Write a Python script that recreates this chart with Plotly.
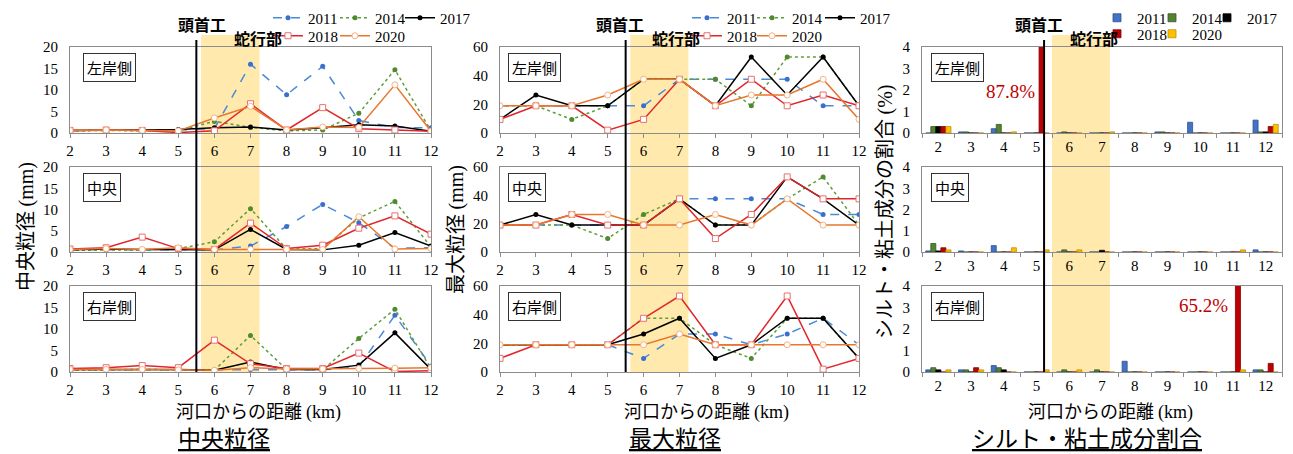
import plotly.graph_objects as go

W, H = 1293, 454

# ---------------- data ----------------
km = [2, 3, 4, 5, 6, 7, 8, 9, 10, 11, 12]
km_labels = [str(k) for k in km]
years = ["2011", "2014", "2017", "2018", "2020"]
banks = ["左岸側", "中央", "右岸側"]

# 中央粒径 (mm)
median_left = {
    "2011": [0.6, 0.6, 0.6, 0.7, 1.0, 16.0, 8.9, 15.5, 2.9, 1.3, 1.2],
    "2014": [0.5, 0.6, 0.5, 0.5, 2.7, 1.3, 0.5, 0.7, 4.6, 14.7, 0.5],
    "2017": [0.6, 0.6, 0.7, 0.8, 1.2, 1.4, 0.7, 1.2, 1.9, 1.6, 0.4],
    "2018": [0.6, 0.7, 0.6, 0.1, 0.5, 6.8, 0.7, 5.9, 1.0, 0.7, 0.4],
    "2020": [0.6, 0.7, 0.6, 0.5, 3.5, 6.2, 0.7, 1.4, 1.3, 11.2, 0.4],
}
median_center = {
    "2011": [0.5, 0.5, 0.5, 0.5, 0.5, 1.4, 6.0, 11.2, 6.9, 0.9, 1.0],
    "2014": [0.4, 0.5, 0.5, 0.8, 2.4, 10.2, 0.7, 0.8, 8.0, 11.9, 1.2],
    "2017": [0.5, 0.7, 0.6, 0.6, 0.5, 5.3, 0.6, 0.5, 1.6, 4.6, 1.4],
    "2018": [0.7, 1.0, 3.5, 0.8, 0.6, 6.8, 0.8, 1.6, 5.6, 8.5, 4.2],
    "2020": [0.6, 0.8, 0.6, 1.0, 0.6, 0.6, 0.6, 0.6, 8.3, 0.7, 0.8],
}
median_right = {
    "2011": [0.5, 0.5, 0.5, 0.5, 0.5, 0.6, 0.5, 0.5, 1.2, 13.2, 1.4],
    "2014": [0.4, 0.5, 0.6, 0.5, 0.4, 8.5, 0.6, 0.5, 7.8, 14.6, 0.8],
    "2017": [0.6, 0.6, 0.7, 0.6, 0.4, 2.3, 0.6, 0.6, 1.6, 9.1, 0.6],
    "2018": [0.8, 1.0, 1.5, 1.0, 7.4, 1.9, 0.8, 0.8, 4.4, 0.1, 0.3],
    "2020": [0.6, 0.6, 0.6, 0.5, 0.4, 1.0, 0.7, 0.7, 0.8, 0.9, 1.0],
}

# 最大粒径 (mm)
max_left = {
    "2011": [19, 19, 19, 19, 19, 37.5, 37.5, 37.5, 37.5, 19, 19],
    "2014": [19, 19, 9.5, 19, 37.5, 37.5, 37.5, 19, 53, 53, 19],
    "2017": [9.5, 26.5, 19, 19, 37.5, 37.5, 19, 53, 26.5, 53, 19],
    "2018": [9.5, 19, 19, 2, 9.5, 37.5, 19, 37.5, 19, 26.5, 19],
    "2020": [19, 19, 19, 26.5, 37.5, 37.5, 19, 26.5, 26.5, 37.5, 9.5],
}
max_center = {
    "2011": [19, 19, 19, 19, 19, 37.5, 37.5, 37.5, 37.5, 26.5, 26.5],
    "2014": [19, 19, 19, 9.5, 26.5, 37.5, 19, 19, 37.5, 53, 19],
    "2017": [19, 26.5, 19, 19, 19, 37.5, 19, 19, 53, 37.5, 19],
    "2018": [19, 19, 26.5, 19, 19, 37.5, 9.5, 26.5, 53, 37.5, 37.5],
    "2020": [19, 19, 26.5, 26.5, 19, 19, 26.5, 19, 37.5, 19, 19],
}
max_right = {
    "2011": [19, 19, 19, 19, 9.5, 26.5, 26.5, 19, 26.5, 37.5, 19],
    "2014": [19, 19, 19, 19, 37.5, 37.5, 19, 9.5, 37.5, 37.5, 9.5],
    "2017": [19, 19, 19, 19, 26.5, 37.5, 9.5, 19, 37.5, 37.5, 9.5],
    "2018": [9.5, 19, 19, 19, 37.5, 53, 19, 19, 53, 2, 9.5],
    "2020": [19, 19, 19, 19, 19, 26.5, 19, 19, 19, 19, 19],
}

# シルト・粘土成分の割合 (%)
silt_left = {
    "2011": [0, 0.05, 0.2, 0, 0, 0, 0, 0.05, 0.5, 0, 0.6],
    "2014": [0.3, 0.05, 0.4, 0, 0.05, 0, 0, 0.05, 0, 0, 0.05],
    "2017": [0.3, 0, 0, 0, 0, 0, 0, 0, 0, 0, 0.05],
    "2018": [0.3, 0, 0, 87.8, 0, 0, 0, 0, 0, 0, 0.3],
    "2020": [0.3, 0, 0.05, 0, 0, 0.05, 0, 0, 0, 0, 0.4],
}
silt_center = {
    "2011": [0.05, 0.05, 0.3, 0, 0, 0, 0, 0, 0, 0, 0.1],
    "2014": [0.4, 0, 0, 0, 0.1, 0, 0, 0, 0, 0, 0],
    "2017": [0.05, 0, 0, 0, 0, 0.08, 0, 0, 0, 0, 0],
    "2018": [0.2, 0, 0, 0, 0, 0, 0, 0, 0, 0, 0],
    "2020": [0.1, 0, 0.2, 0.1, 0.1, 0, 0, 0, 0, 0.1, 0],
}
silt_right = {
    "2011": [0.1, 0.1, 0.3, 0, 0, 0, 0.5, 0, 0, 0, 0.1],
    "2014": [0.2, 0.1, 0.2, 0, 0.1, 0.1, 0, 0, 0, 0, 0.1],
    "2017": [0.1, 0, 0.1, 0, 0, 0, 0, 0, 0, 0, 0],
    "2018": [0, 0.2, 0, 0, 0, 0, 0, 0, 0, 65.2, 0.4],
    "2020": [0.1, 0.1, 0, 0.1, 0.1, 0, 0, 0, 0, 0.1, 0],
}

# ---------------- styles ----------------
SERIF = "Liberation Serif, Times New Roman, serif"
JP = "Noto Sans CJK JP, sans-serif"
FRAME = "#8c8c8c"

line_style = {
    "2011": dict(line=dict(color="#4a8ad8", width=1.5, dash="dash"),
                 marker=dict(symbol="circle", size=5, color="#3a6fd0")),
    "2014": dict(line=dict(color="#5e9e3a", width=1.5, dash="dot"),
                 marker=dict(symbol="circle", size=5, color="#4f8a2e")),
    "2017": dict(line=dict(color="#000000", width=1.5),
                 marker=dict(symbol="circle", size=5, color="#000000")),
    "2018": dict(line=dict(color="#e0262b", width=1.5),
                 marker=dict(symbol="square", size=6, color="#ffffff",
                             line=dict(color="#e87070", width=1))),
    "2020": dict(line=dict(color="#e8772e", width=1.5),
                 marker=dict(symbol="circle", size=6, color="#ffffff",
                             line=dict(color="#f4b183", width=1))),
}
bar_style = {
    "2011": dict(color="#4472c4", line=dict(color="#2f528f", width=0.8)),
    "2014": dict(color="#548235", line=dict(color="#385723", width=0.8)),
    "2017": dict(color="#000000", line=dict(color="#000000", width=0.8)),
    "2018": dict(color="#c00000", line=dict(color="#800000", width=0.8)),
    "2020": dict(color="#ffc000", line=dict(color="#bf9000", width=0.8)),
}

# ---------------- geometry (pixels) ----------------
col_px = [(70, 431), (500, 859), (922, 1282)]
row_px = [(47, 133), (167, 252), (286, 372)]


def px_x(p):
    return p / W


def px_y(p):
    return 1 - p / H


median_sets = [median_left, median_center, median_right]
max_sets = [max_left, max_center, max_right]
silt_sets = [silt_left, silt_center, silt_right]

fig = go.Figure()
layout = dict(
    width=W, height=H,
    margin=dict(l=0, r=0, t=0, b=0, autoexpand=False),
    paper_bgcolor="white", plot_bgcolor="rgba(0,0,0,0)",
    barmode="group", bargap=0.23, bargroupgap=0,
    font=dict(family=SERIF, size=15, color="#000"),
    showlegend=True,
)

# legend text start positions (px) per column and year
legend_pos = [
    {"2011": (308, 18), "2014": (375, 18), "2017": (440, 18), "2018": (308, 36), "2020": (375, 36)},
    {"2011": (727, 18), "2014": (792, 18), "2017": (860, 18), "2018": (727, 36), "2020": (792, 36)},
    {"2011": (1137, 18), "2014": (1192, 18), "2017": (1247, 18), "2018": (1137, 34), "2020": (1192, 34)},
]


def legend_name(n):
    return "legend" if n == 1 else f"legend{n}"


legend_counter = 0
for c in range(3):
    for r in range(3):
        idx = r * 3 + c + 1
        sfx = "" if idx == 1 else str(idx)
        xa, ya = "x" + sfx, "y" + sfx
        for yr in years:
            if c < 2:
                data = (median_sets if c == 0 else max_sets)[r][yr]
                fig.add_trace(go.Scatter(
                    x=km, y=data, mode="lines+markers", name=yr,
                    xaxis=xa, yaxis=ya, showlegend=False,
                    **line_style[yr]))
            else:
                data = silt_sets[r][yr]
                fig.add_trace(go.Bar(
                    x=km_labels, y=data, name=yr, xaxis=xa, yaxis=ya,
                    showlegend=False, offsetgroup=yr, marker=bar_style[yr]))

        x_dom = [px_x(col_px[c][0]), px_x(col_px[c][1])]
        y_dom = [px_y(row_px[r][1]), px_y(row_px[r][0])]
        xkey = "xaxis" if idx == 1 else f"xaxis{idx}"
        ykey = "yaxis" if idx == 1 else f"yaxis{idx}"
        common = dict(showline=True, mirror=True, linecolor=FRAME, linewidth=1,
                      showgrid=False, zeroline=False,
                      tickfont=dict(family=SERIF, size=15, color="#000"))
        if c < 2:
            layout[xkey] = dict(domain=x_dom, anchor=ya, range=[2, 12],
                                tickvals=km, ticks="outside", ticklen=4,
                                tickcolor=FRAME, **common)
        else:
            layout[xkey] = dict(domain=x_dom, anchor=ya, type="category",
                                categoryorder="array", categoryarray=km_labels,
                                range=[-0.5, 10.5], tickson="boundaries",
                                ticks="outside", ticklen=4, tickcolor=FRAME,
                                **common)
        if c == 0:
            yr_range, dtick = [0, 20], 5
        elif c == 1:
            yr_range, dtick = [0, 60], 20
        else:
            yr_range, dtick = [0, 4], 1
        layout[ykey] = dict(domain=y_dom, anchor=xa, range=yr_range, dtick=dtick,
                            ticks="", ticklabelstandoff=8, **common)

# legend keys: one small legend per entry so each can be placed freely
for c in range(3):
    xa, ya = ("x", "y") if c == 0 else (f"x{c + 1}", f"y{c + 1}")
    for yr in years:
        legend_counter += 1
        lg = legend_name(legend_counter)
        tx, ty = legend_pos[c][yr]
        layout[lg] = dict(
            x=px_x(tx - 40), y=px_y(ty), xanchor="left", yanchor="middle",
            bgcolor="rgba(0,0,0,0)", borderwidth=0, itemwidth=30,
            font=dict(family=SERIF, size=15, color="#000"),
            orientation="h",
        )
        if c < 2:
            key = dict(mode="lines+markers", **line_style[yr])
        else:
            key = dict(mode="markers",
                       marker=dict(symbol="square", size=8,
                                   color=bar_style[yr]["color"],
                                   line=dict(color=bar_style[yr]["line"]["color"], width=0.8)))
        fig.add_trace(go.Scatter(x=[None], y=[None], name=yr, xaxis=xa, yaxis=ya,
                                 showlegend=True, legend=lg, hoverinfo="skip", **key))

fig.update_layout(**layout)

# ---------------- weir line, meander band ----------------
weir_x = [5.5, 5.5, 3.23]
band_x = [(5.63, 7.25), (5.63, 7.25), (3.47, 5.24)]
col_xref = ["x", "x2", "x3"]
shapes = []
for c in range(3):
    shapes.append(dict(type="rect", xref=col_xref[c], yref="paper",
                       x0=band_x[c][0], x1=band_x[c][1],
                       y0=px_y(372), y1=px_y(35),
                       fillcolor="#ffe9ad", line=dict(width=0), layer="below"))
    shapes.append(dict(type="line", xref=col_xref[c], yref="paper",
                       x0=weir_x[c], x1=weir_x[c], y0=px_y(372), y1=px_y(40),
                       line=dict(color="#000", width=2), layer="above"))
fig.update_layout(shapes=shapes)

# ---------------- annotations ----------------
ann = []


def label(text, x, y, size, family=JP, color="#000", **kw):
    d = dict(text=text, x=px_x(x), y=px_y(y), xref="paper", yref="paper",
             xanchor="center", yanchor="middle", showarrow=False,
             font=dict(family=family, size=size, color=color))
    d.update(kw)
    ann.append(d)


weir_lbl_x = [202, 620, 1039]
meander_lbl_x = [258, 676, 1094]
box_left = [83, 508, 931]
for c in range(3):
    label("<b>頭首工</b>", weir_lbl_x[c], 24, 16)
    label("<b>蛇行部</b>", meander_lbl_x[c], 38, 16)
    for r in range(3):
        label(banks[r], box_left[c], row_px[r][0] + 20, 15, xanchor="left",
              bordercolor="#333", borderwidth=1, borderpad=3, bgcolor="white")

# axis titles
serif_span = "<span style='font-family:Liberation Serif'>{}</span>"
label("中央粒径 " + serif_span.format("(mm)"), 24, 227, 20, textangle=-90)
label("最大粒径 " + serif_span.format("(mm)"), 454, 229, 20, textangle=-90)
label("シルト・粘土成分の割合 " + serif_span.format("(%)"), 883, 212, 20, textangle=-90)

for x in [258, 706, 1110]:
    label("河口からの距離 " + serif_span.format("(km)"), x, 410, 18)

for t, x in [("中央粒径", 224), ("最大粒径", 675), ("シルト・粘土成分割合", 1087)]:
    label(f"<u>{t}</u>", x, 437, 23)

# value labels for the clipped silt bars
label(f"{silt_left['2018'][3]}%", 1010, 91, 19, family=SERIF, color="#c00000")
label(f"{silt_right['2018'][9]}%", 1203, 305, 19, family=SERIF, color="#c00000")

fig.update_layout(annotations=ann)
fig.write_html("out.html")
